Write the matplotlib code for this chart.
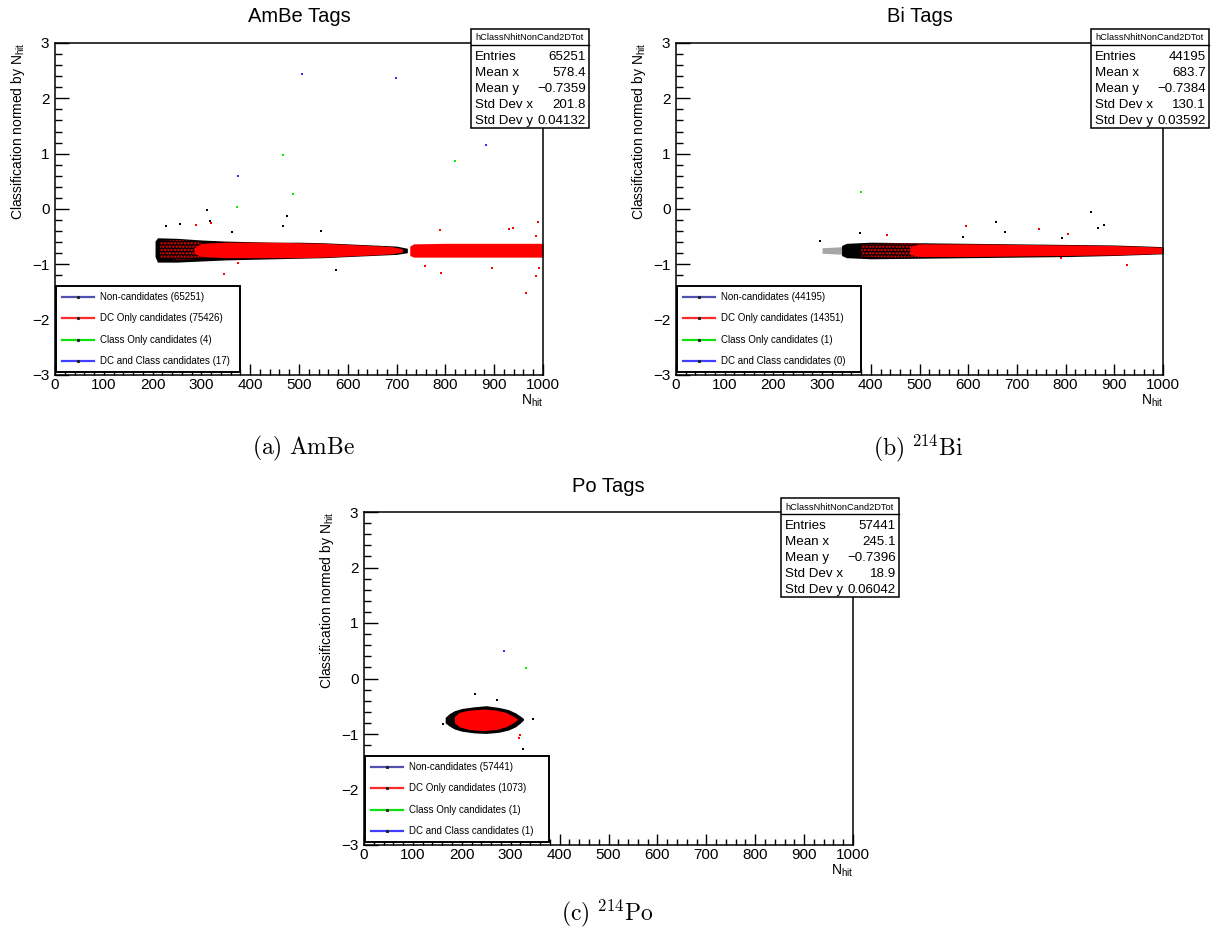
import matplotlib
matplotlib.use("Agg")
import matplotlib.pyplot as plt
from matplotlib.patches import Rectangle
from matplotlib.lines import Line2D
from matplotlib.ticker import MultipleLocator

plt.rcParams['font.family'] = ['Liberation Sans', 'DejaVu Sans']
plt.rcParams['mathtext.fontset'] = 'custom'
plt.rcParams['mathtext.rm'] = 'Liberation Sans'
plt.rcParams['axes.unicode_minus'] = True
plt.rcParams['hatch.linewidth'] = 1.2

W, H = 1212, 935

# ---------------- data ----------------
titles = ["AmBe Tags", "Bi Tags", "Po Tags"]
captions = [r"$\mathrm{(a)\ AmBe}$", r"$\mathrm{(b)\ }^{214}\mathrm{Bi}$", r"$\mathrm{(c)\ }^{214}\mathrm{Po}$"]
stat_labels = ["Entries", "Mean x", "Mean y", "Std Dev x", "Std Dev y"]
stats_a = ["65251", "578.4", "\u22120.7359", "201.8", "0.04132"]
stats_b = ["44195", "683.7", "\u22120.7384", "130.1", "0.03592"]
stats_c = ["57441", "245.1", "\u22120.7396", "18.9", "0.06042"]
legend_names = ["Non-candidates", "DC Only candidates", "Class Only candidates", "DC and Class candidates"]
counts_a = [65251, 75426, 4, 17]
counts_b = [44195, 14351, 1, 0]
counts_c = [57441, 1073, 1, 1]

# band envelopes (x, low, high) of the dense clusters
a_black_x = [205, 210, 250, 300, 350, 400, 450, 500, 550, 600, 650, 700, 722]
a_black_lo = [-0.86, -0.96, -0.96, -0.94, -0.92, -0.91, -0.90, -0.89, -0.88, -0.86, -0.84, -0.82, -0.79]
a_black_hi = [-0.58, -0.52, -0.53, -0.56, -0.58, -0.59, -0.60, -0.60, -0.61, -0.63, -0.65, -0.67, -0.71]
a_redsp_x = [215, 250, 300]
a_redsp_lo = [-0.88, -0.92, -0.90]
a_redsp_hi = [-0.58, -0.56, -0.59]
a_red1_x = [285, 300, 350, 400, 450, 500, 550, 600, 650, 690, 712]
a_red1_lo = [-0.80, -0.86, -0.88, -0.88, -0.88, -0.88, -0.87, -0.85, -0.83, -0.81, -0.78]
a_red1_hi = [-0.70, -0.62, -0.60, -0.60, -0.60, -0.61, -0.62, -0.64, -0.66, -0.68, -0.72]
a_red2_x = [727, 735, 800, 900, 1000]
a_red2_lo = [-0.84, -0.87, -0.87, -0.87, -0.87]
a_red2_hi = [-0.67, -0.63, -0.62, -0.62, -0.62]

b_sparse_x = [300, 345]
b_sparse_lo = [-0.80, -0.82]
b_sparse_hi = [-0.70, -0.68]
b_black_x = [340, 350, 400, 500, 600, 700, 800, 900, 1000]
b_black_lo = [-0.84, -0.88, -0.90, -0.89, -0.88, -0.87, -0.86, -0.84, -0.81]
b_black_hi = [-0.66, -0.62, -0.60, -0.61, -0.62, -0.63, -0.64, -0.65, -0.68]
b_redsp_x = [380, 450, 500]
b_redsp_lo = [-0.86, -0.88, -0.87]
b_redsp_hi = [-0.64, -0.62, -0.62]
b_redband_x = [480, 500, 600, 700, 800, 900, 1000]
b_redband_lo = [-0.82, -0.86, -0.86, -0.85, -0.84, -0.83, -0.80]
b_redband_hi = [-0.68, -0.63, -0.63, -0.64, -0.65, -0.66, -0.69]

c_black_x = [166, 175, 185, 200, 225, 250, 275, 295, 310, 320, 326]
c_black_lo = [-0.80, -0.86, -0.91, -0.95, -0.98, -0.99, -0.97, -0.93, -0.87, -0.80, -0.75]
c_black_hi = [-0.70, -0.63, -0.58, -0.54, -0.51, -0.49, -0.52, -0.56, -0.62, -0.68, -0.72]
c_redband_x = [185, 195, 215, 245, 270, 290, 305, 313]
c_redband_lo = [-0.80, -0.87, -0.92, -0.94, -0.92, -0.87, -0.80, -0.75]
c_redband_hi = [-0.68, -0.61, -0.57, -0.55, -0.57, -0.61, -0.68, -0.72]

# isolated points
a_blk_x = [311, 318, 476, 256, 545, 576, 227, 362, 468]
a_blk_y = [-0.02, -0.22, -0.13, -0.28, -0.40, -1.10, -0.30, -0.42, -0.30]
a_red_x = [289, 320, 788, 989, 758, 790, 896, 965, 986, 992, 347, 376, 931, 939, 986]
a_red_y = [-0.29, -0.26, -0.38, -0.23, -1.03, -1.16, -1.06, -1.51, -1.21, -1.07, -1.18, -0.98, -0.36, -0.35, -0.49]
a_grn_x = [467, 488, 373, 820]
a_grn_y = [0.98, 0.27, 0.04, 0.86]
a_blu_x = [507, 698, 884, 374]
a_blu_y = [2.44, 2.37, 1.15, 0.59]

b_blk_x = [296, 377, 657, 852, 866, 878, 589, 675, 793]
b_blk_y = [-0.58, -0.44, -0.23, -0.05, -0.35, -0.29, -0.50, -0.42, -0.53]
b_red_x = [596, 434, 746, 805, 927, 791]
b_red_y = [-0.31, -0.47, -0.36, -0.45, -1.01, -0.88]
b_grn_x = [380]
b_grn_y = [0.31]
b_blu_x = []
b_blu_y = []

c_blk_x = [227, 272, 326, 345, 162]
c_blk_y = [-0.28, -0.39, -1.27, -0.73, -0.82]
c_red_x = [317, 319]
c_red_y = [-1.08, -1.01]
c_grn_x = [332]
c_grn_y = [0.19]
c_blu_x = [286]
c_blu_y = [0.50]

RED = '#ff0000'
GRN = '#00ee00'
BLU = '#3030ff'
LEG_COLORS = ['#5050b0', '#ff2a2a', '#10e010', '#4040ff']

fig = plt.figure(figsize=(W / 100, H / 100), dpi=100)


def fx(x):
    return x / W


def fy(y):
    return 1 - y / H


def make_panel(left, right, top, bottom, title, caption, cap_xy, stats, counts,
               bands, pts):
    ax = fig.add_axes([fx(left), fy(bottom), fx(right - left), (bottom - top) / H])
    ax.set_xlim(0, 1000)
    ax.set_ylim(-3, 3)
    for s in ['top', 'right', 'left', 'bottom']:
        ax.spines[s].set_linewidth(1.1)
    ax.xaxis.set_major_locator(MultipleLocator(100))
    ax.xaxis.set_minor_locator(MultipleLocator(20))
    ax.yaxis.set_major_locator(MultipleLocator(1))
    ax.yaxis.set_minor_locator(MultipleLocator(0.2))
    ax.tick_params(axis='x', which='major', direction='in', length=8, width=1, labelsize=11, pad=2)
    ax.tick_params(axis='x', which='minor', direction='in', length=4, width=1)
    ax.tick_params(axis='y', which='major', direction='in', length=10, width=1, labelsize=11, pad=4)
    ax.tick_params(axis='y', which='minor', direction='in', length=5, width=1)

    # bands
    for (bx, lo, hi, col, kind) in bands:
        if kind == 'solid':
            ax.fill_between(bx, lo, hi, color=col, lw=0, zorder=2)
        elif kind == 'sparse':
            ax.fill_between(bx, lo, hi, color=col, alpha=0.35, lw=0, zorder=2)
        else:  # speckle
            ax.fill_between(bx, lo, hi, facecolor='none', edgecolor=col, hatch='.....',
                            lw=0, zorder=2)
    # isolated points
    for (px, py, col) in pts:
        if len(px):
            ax.scatter(px, py, s=3, color=col, marker='s', lw=0, zorder=3)

    ax.set_ylabel(r"Classification normed by N$_{\rm hit}$", fontsize=10, loc='top')
    ax.yaxis.set_label_coords(-0.058, 1.0)
    ax.set_xlabel(r"N$_{\rm hit}$", fontsize=10, loc='right')
    ax.xaxis.set_label_coords(1.0, -0.052)

    # title
    fig.text(fx((left + right) / 2), fy(top - 26), title, ha='center', va='center',
             fontsize=14.5)
    # caption
    fig.text(fx(cap_xy[0]), fy(cap_xy[1]), caption, ha='center', va='center',
             fontsize=17, math_fontfamily='cm')

    # stats box
    bl, br = right - 72, right + 46
    bt, bb = top - 14, top + 85
    fig.add_artist(Rectangle((fx(bl), fy(bb)), fx(br - bl), (bb - bt) / H,
                             transform=fig.transFigure, facecolor='white',
                             edgecolor='black', lw=1.1, zorder=5))
    fig.add_artist(Line2D([fx(bl), fx(br)], [fy(bt + 16), fy(bt + 16)],
                          transform=fig.transFigure, color='black', lw=1.0, zorder=6))
    fig.text(fx((bl + br) / 2), fy(bt + 9), "hClassNhitNonCand2DTot", ha='center',
             va='center', fontsize=6.7, zorder=7)
    for i, (lab, val) in enumerate(zip(stat_labels, stats)):
        yy = bt + 28 + i * 16
        fig.text(fx(bl + 4), fy(yy), lab, ha='left', va='center', fontsize=9.6, zorder=7)
        fig.text(fx(br - 3), fy(yy), val, ha='right', va='center', fontsize=9.6, zorder=7)

    # legend box
    ll, lr = left + 1, left + 185
    lt, lb = bottom - 89, bottom - 3
    ax.add_artist(Rectangle((fx(ll), fy(lb)), fx(lr - ll), (lb - lt) / H,
                            transform=fig.transFigure, facecolor='white',
                            edgecolor='black', lw=1.4, zorder=8))
    for i, (name, cnt, col) in enumerate(zip(legend_names, counts, LEG_COLORS)):
        yy = lt + 11 + i * 21.3
        fig.add_artist(Line2D([fx(ll + 6), fx(ll + 38)], [fy(yy), fy(yy)],
                              transform=fig.transFigure, color=col, lw=1.6, zorder=9))
        fig.add_artist(Line2D([fx(ll + 22)], [fy(yy)], transform=fig.transFigure,
                              color='#202020', marker='s', markersize=1.2, lw=0, zorder=10))
        fig.text(fx(ll + 44), fy(yy), f"{name} ({cnt})", ha='left', va='center',
                 fontsize=7.0, zorder=10)
    return ax


make_panel(55, 543, 43, 375, titles[0], captions[0], (303, 448), stats_a, counts_a,
           [(a_black_x, a_black_lo, a_black_hi, 'black', 'solid'),
            (a_redsp_x, a_redsp_lo, a_redsp_hi, RED, 'speckle'),
            (a_red1_x, a_red1_lo, a_red1_hi, RED, 'solid'),
            (a_red2_x, a_red2_lo, a_red2_hi, RED, 'solid')],
           [(a_blk_x, a_blk_y, 'black'), (a_red_x, a_red_y, RED),
            (a_grn_x, a_grn_y, GRN), (a_blu_x, a_blu_y, BLU)])

make_panel(676, 1163, 43, 375, titles[1], captions[1], (918, 448), stats_b, counts_b,
           [(b_sparse_x, b_sparse_lo, b_sparse_hi, 'black', 'sparse'),
            (b_black_x, b_black_lo, b_black_hi, 'black', 'solid'),
            (b_redsp_x, b_redsp_lo, b_redsp_hi, RED, 'speckle'),
            (b_redband_x, b_redband_lo, b_redband_hi, RED, 'solid')],
           [(b_blk_x, b_blk_y, 'black'), (b_red_x, b_red_y, RED),
            (b_grn_x, b_grn_y, GRN), (b_blu_x, b_blu_y, BLU)])

make_panel(364, 853, 512, 845, titles[2], captions[2], (607, 913), stats_c, counts_c,
           [(c_black_x, c_black_lo, c_black_hi, 'black', 'solid'),
            (c_redband_x, c_redband_lo, c_redband_hi, RED, 'solid')],
           [(c_blk_x, c_blk_y, 'black'), (c_red_x, c_red_y, RED),
            (c_grn_x, c_grn_y, GRN), (c_blu_x, c_blu_y, BLU)])

fig.savefig("out.png", dpi=100)
